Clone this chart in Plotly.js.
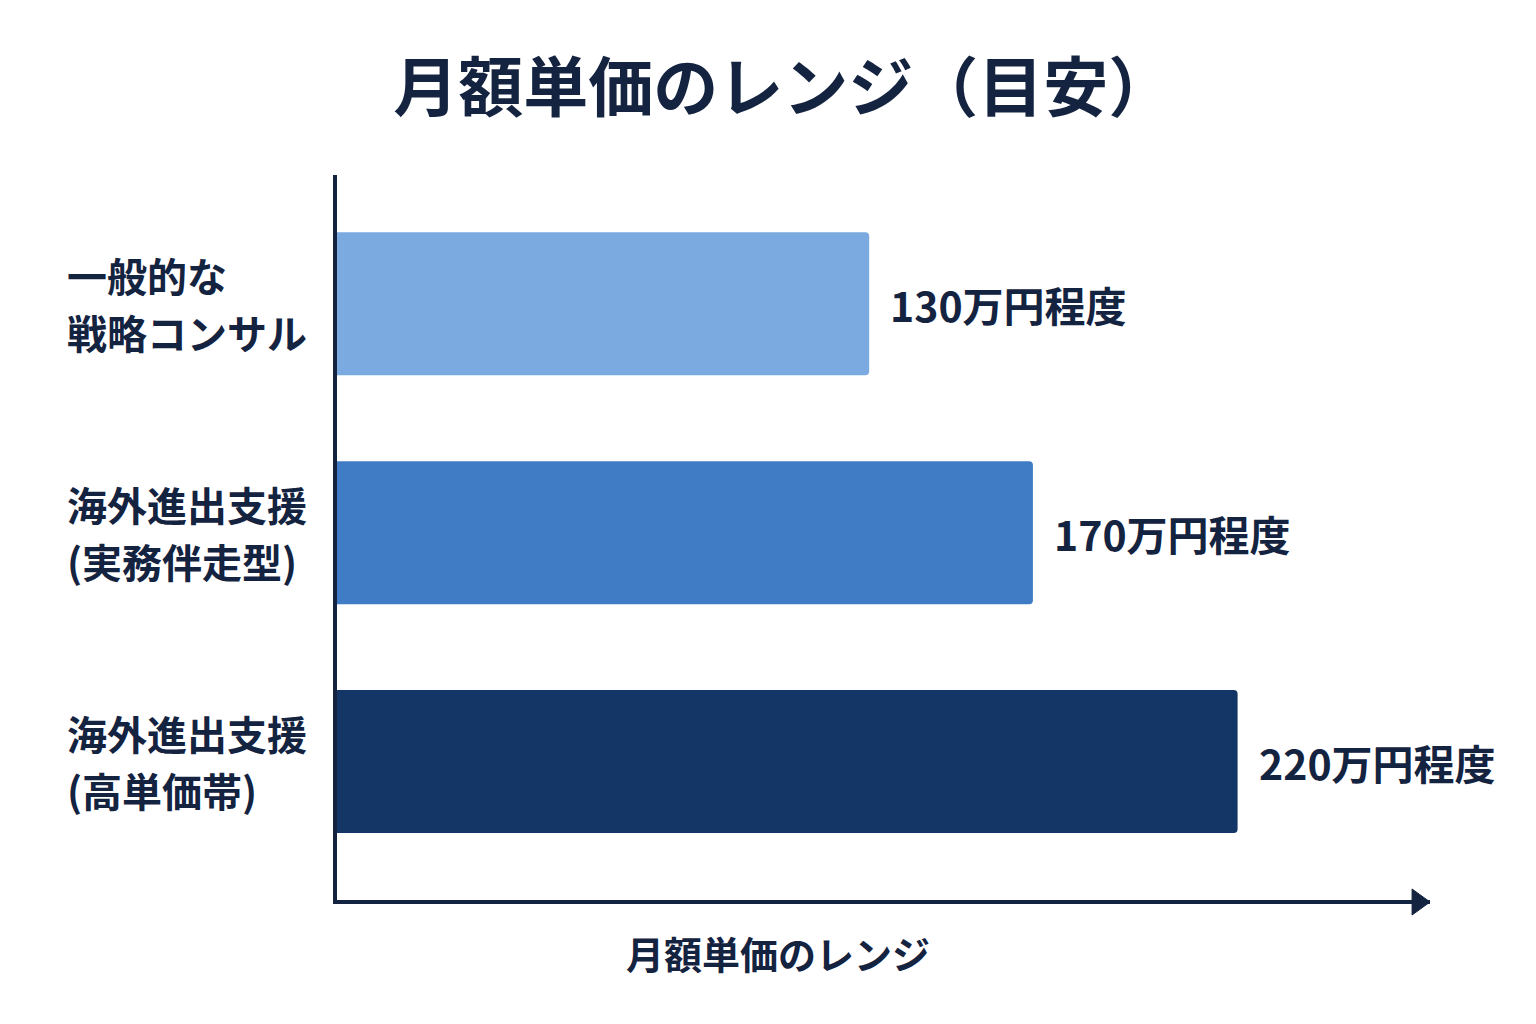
<!DOCTYPE html>
<html><head><meta charset="utf-8">
<script src="https://cdn.plot.ly/plotly-3.0.1.min.js"></script>
<style>body{margin:0;background:#fff}#c{width:1536px;height:1024px}</style>
</head><body><div id="c"></div>
<script>
const categoryLine1 = ['一般的な', '海外進出支援', '海外進出支援'];
const categoryLine2 = ['戦略コンサル', '(実務伴走型)', '(高単価帯)'];
const values = [130, 170, 220];
const valueLabels = ['130万円程度', '170万円程度', '220万円程度'];
const barColors = ['#7aaae0', '#407cc5', '#133667'];
const titleText = '月額単価のレンジ（目安）';
const xTitleText = '月額単価のレンジ';

const navy = '#14233f';
const font = 'Noto Sans CJK JP, Noto Sans, sans-serif';
const ids = values.map((v, i) => i);

const trace = {
  type: 'bar', orientation: 'h',
  x: values, y: ids,
  marker: {color: barColors, line: {width: 0}},
  width: 0.625,
  hoverinfo: 'skip'
};

const annotations = [];
values.forEach((v, i) => {
  [categoryLine1[i], categoryLine2[i]].forEach((t, k) => {
    annotations.push({
      xref: 'paper', yref: 'y', x: -0.248, y: i, xanchor: 'left', yanchor: 'middle',
      yshift: k === 0 ? 29 : -28,
      align: 'left', text: '<b>' + t + '</b>', showarrow: false, borderpad: 0,
      font: {family: font, size: 40, color: navy}
    });
  });
  annotations.push({
    xref: 'x', yref: 'y', x: v, y: i, xanchor: 'left', yanchor: 'middle',
    xshift: 19, text: '<b>' + valueLabels[i] + '</b>', showarrow: false,
    font: {family: font, size: 41, color: navy}
  });
});
annotations.push({
  xref: 'paper', yref: 'paper', x: 0.4035, y: -0.073, xanchor: 'center', yanchor: 'middle',
  text: '<b>' + xTitleText + '</b>', showarrow: false,
  font: {family: font, size: 38, color: navy}
});

const layout = {
  width: 1536, height: 1024,
  paper_bgcolor: '#ffffff', plot_bgcolor: '#ffffff',
  margin: {l: 337, r: 106, t: 175, b: 124},
  showlegend: false,
  barcornerradius: 4,
  title: {text: '<b>' + titleText + '</b>', x: 0.51, xanchor: 'center', y: 0.914, yanchor: 'middle',
          font: {family: font, size: 65, color: navy}},
  xaxis: {range: [0, 267], showgrid: false, zeroline: false, showticklabels: false, ticks: '',
          showline: true, linecolor: navy, linewidth: 4, fixedrange: true},
  yaxis: {range: [2.605, -0.563], showgrid: false, zeroline: false, showticklabels: false, ticks: '',
          showline: true, linecolor: navy, linewidth: 4, fixedrange: true},
  shapes: [{
    type: 'path', xref: 'paper', yref: 'paper',
    path: 'M 0.9836 0.0152 L 1.0 -0.0028 L 0.9836 -0.0207 Z',
    fillcolor: navy, line: {color: navy, width: 1}
  }],
  annotations: annotations
};

Plotly.newPlot('c', [trace], layout, {displayModeBar: false, staticPlot: true});
</script>
</body></html>
